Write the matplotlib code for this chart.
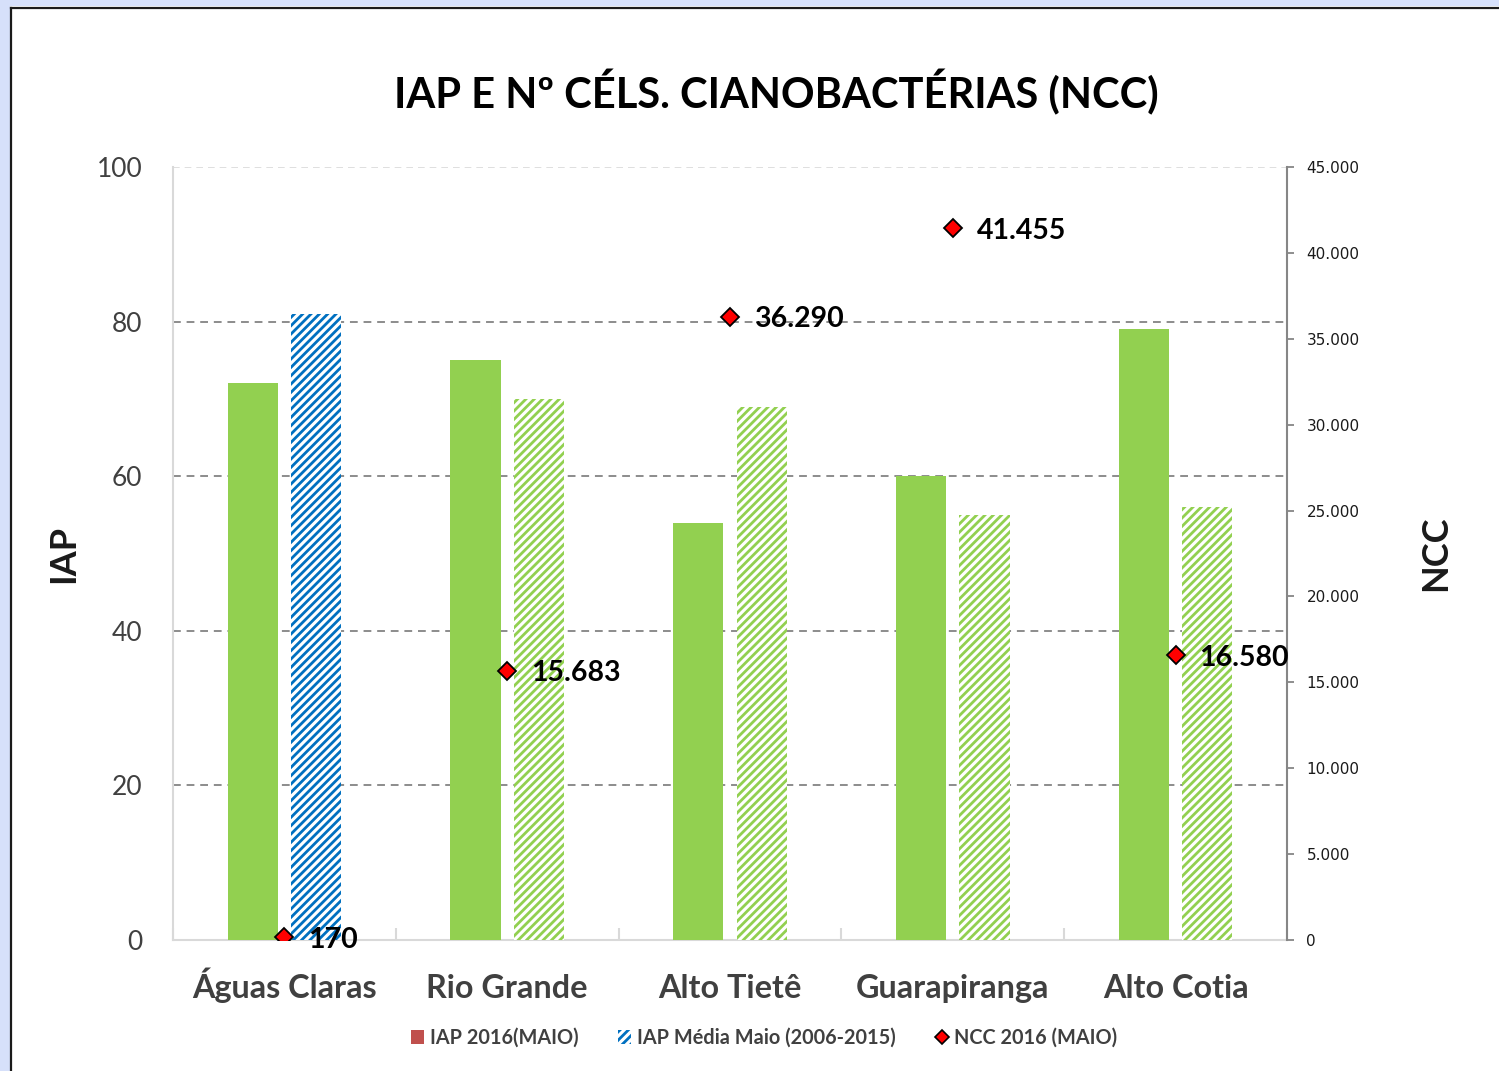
"""IAP e número de células de cianobactérias por reservatório (maio 2016)."""

import matplotlib
matplotlib.use("Agg")
import matplotlib.pyplot as plt
from matplotlib.lines import Line2D
from matplotlib.patches import Patch, Rectangle
from matplotlib.ticker import FuncFormatter
import numpy as np

plt.rcParams["font.family"] = ["Lato", "DejaVu Sans"]
plt.rcParams["hatch.linewidth"] = 2.0

categories = ["Águas Claras", "Rio Grande", "Alto Tietê", "Guarapiranga", "Alto Cotia"]
iap_2016 = [72, 75, 54, 60, 79]
iap_media = [81, 70, 69, 55, 56]
ncc_2016 = [170, 15683, 36290, 41455, 16580]
left_ticks = [0, 20, 40, 60, 80, 100]
right_ticks = [0, 5000, 10000, 15000, 20000, 25000, 30000, 35000, 40000, 45000]

GREEN = "#92d050"
BLUE = "#0070c0"
TEXT = "#404040"


def br_thousands(value, _pos=None):
    return f"{value:,.0f}".replace(",", ".")


fig = plt.figure(figsize=(14.99, 10.71), dpi=100, facecolor="white")

# light blue frame strips and the black panel edge
fig.patches.append(Rectangle((0, 1 - 6 / 1071), 1, 6 / 1071, transform=fig.transFigure,
                             facecolor="#d6e0fa", edgecolor="none", zorder=0))
fig.patches.append(Rectangle((0, 0), 10 / 1499, 1, transform=fig.transFigure,
                             facecolor="#d6e0fa", edgecolor="none", zorder=0))
fig.add_artist(Line2D([11 / 1499, 1], [1 - 7.5 / 1071] * 2, transform=fig.transFigure,
                      color="#1a1a1a", lw=1.6))
fig.add_artist(Line2D([11 / 1499] * 2, [0, 1 - 7.5 / 1071], transform=fig.transFigure,
                      color="#1a1a1a", lw=1.6))

ax = fig.add_axes([173 / 1499, 1 - 940 / 1071, (1287 - 173) / 1499, (940 - 167) / 1071])
x = np.arange(len(categories))
width = 0.225
offset = 0.142

ax.bar(x - offset, iap_2016, width, color=GREEN, zorder=3)
media_colors = [BLUE] + [GREEN] * (len(categories) - 1)
for xi, val, col in zip(x, iap_media, media_colors):
    ax.bar(xi + offset, val, width, facecolor="white", edgecolor=col, hatch="////",
           linewidth=0, zorder=3)

ax.set_xlim(-0.5, len(categories) - 0.5)
ax.set_ylim(0, 100)
ax.set_yticks(left_ticks)
ax.tick_params(axis="y", length=0, pad=22, labelsize=19, labelcolor=TEXT)
ax.set_xticks(x)
ax.set_xticklabels([])
ax.tick_params(axis="x", length=0)
ax.set_xticks(np.arange(len(categories) + 1) - 0.5, minor=True)
ax.tick_params(axis="x", which="minor", direction="in", length=9, color="#d9d9d9", width=1.5)
for xi, name in zip(x, categories):
    ax.text(xi, -0.0745, name, transform=ax.get_xaxis_transform(), ha="center",
            va="baseline", fontsize=23.3, fontweight="bold", color=TEXT)

for val in left_ticks[1:-1]:
    ax.axhline(val, color="#8c8c8c", lw=1.4, ls=(0, (4, 3)), zorder=1)
ax.axhline(100, color="#d9d9d9", lw=1.2, ls=(0, (4, 3)), zorder=1)

for side in ("top", "right"):
    ax.spines[side].set_visible(False)
ax.spines["left"].set_color("#d9d9d9")
ax.spines["bottom"].set_color("#d9d9d9")
ax.spines["left"].set_linewidth(1.5)
ax.spines["bottom"].set_linewidth(1.5)

ax.set_ylabel("IAP", fontsize=26, fontweight="bold", color="#1a1a1a")
ax.yaxis.set_label_coords(-0.083, 0.5)

ax2 = ax.twinx()
ax2.set_ylim(0, 45000)
ax2.set_yticks(right_ticks)
ax2.yaxis.set_major_formatter(FuncFormatter(br_thousands))
for label in ax2.get_yticklabels():
    label.set_family("DejaVu Sans")
ax2.tick_params(axis="y", length=5, width=1.3, color="#868686", pad=9, labelsize=11,
                labelcolor="#1a1a1a")
for side in ("top", "left", "bottom"):
    ax2.spines[side].set_visible(False)
ax2.spines["right"].set_color("#868686")
ax2.spines["right"].set_linewidth(1.5)

ax2.plot(x, ncc_2016, ls="none", marker="D", markersize=9, markerfacecolor="#ff0000",
         markeredgecolor="black", markeredgewidth=1.3, zorder=5)
for xi, val in zip(x, ncc_2016):
    ax2.annotate(br_thousands(val), (xi, val), xytext=(17, -2), textcoords="offset points",
                 ha="left", va="center", fontsize=20.5, fontweight="bold", color="black")

ax2.set_ylabel("NCC", fontsize=26, fontweight="bold", color="#1a1a1a", rotation=90)
ax2.yaxis.set_label_coords(1.119, 0.5)

fig.text(776 / 1499, 1 - 92 / 1071, "IAP E Nº CÉLS. CIANOBACTÉRIAS (NCC)", ha="center",
         va="center", fontsize=30, fontweight="bold", color="black")

handles = [
    Patch(facecolor="#c0504d", edgecolor="none"),
    Patch(facecolor="white", edgecolor=BLUE, hatch="////", linewidth=0),
    Line2D([], [], ls="none", marker="D", markersize=7, markerfacecolor="#ff0000",
           markeredgecolor="black", markeredgewidth=1.2),
]
labels = ["IAP 2016(MAIO)", "IAP Média Maio (2006-2015)", "NCC 2016 (MAIO)"]
leg = fig.legend(handles, labels, loc="center", ncol=3, frameon=False,
                 bbox_to_anchor=(764 / 1499, 1 - 1038 / 1071), handlelength=0.65,
                 handleheight=0.65, handletextpad=0.3, columnspacing=2.0,
                 prop={"size": 14.3, "weight": "bold"})
for text in leg.get_texts():
    text.set_color(TEXT)

fig.savefig("out.png", dpi=100, facecolor=fig.get_facecolor())
